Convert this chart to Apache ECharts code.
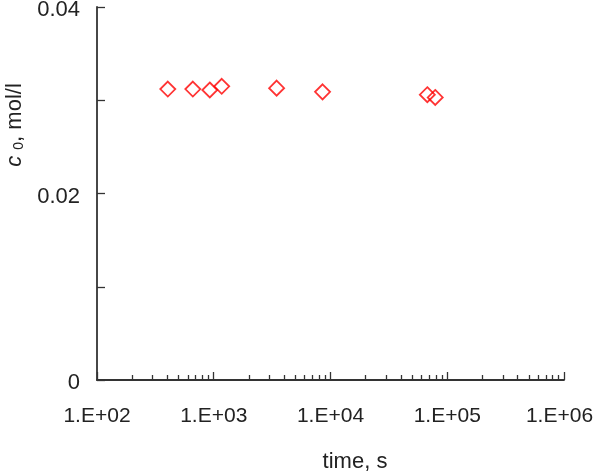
<!DOCTYPE html>
<html>
<head>
<meta charset="utf-8">
<script src="https://cdn.jsdelivr.net/npm/echarts@6/dist/echarts.min.js"></script>
<style>html,body{margin:0;padding:0;background:#fff;}#c{width:596px;height:473px;}</style>
</head>
<body>
<div id="c"></div>
<script>
// Data
const timeS = [404, 662, 925, 1170, 3455, 8550, 67500, 78900];
const c0 = [0.0312, 0.0312, 0.0311, 0.0315, 0.0313, 0.0309, 0.0306, 0.0303];
const xTickLabels = ['1.E+02', '1.E+03', '1.E+04', '1.E+05', '1.E+06'];
const yTickLabels = { '0': '0', '0.02': '0.02', '0.04': '0.04' };
const minorTicks = [];
[100, 1000, 10000, 100000].forEach(d => { for (let k = 2; k <= 9; k++) minorTicks.push(k * d); });

const font = 'Liberation Sans, Arial, sans-serif';
const txt = '#222';
const chart = echarts.init(document.getElementById('c'));
chart.setOption({
  animation: false,
  backgroundColor: '#fff',
  grid: { left: 97, right: 32, top: 7, bottom: 93, containLabel: false, outerBoundsMode: 'none' },
  xAxis: [{
    type: 'log', logBase: 10, min: 100, max: 1000000,
    name: 'time, s', nameLocation: 'middle', nameGap: 71,
    nameTextStyle: { fontFamily: font, fontSize: 22, color: txt, padding: [0, 0, 0, 49] },
    axisLine: { lineStyle: { color: '#333', width: 1.8 } },
    axisTick: { inside: true, length: 8, lineStyle: { color: '#333', width: 1.3 } },
    axisLabel: { margin: 26, fontFamily: font, fontSize: 21, color: txt,
      formatter: v => {
        const i = Math.round(Math.log10(v)) - 2;
        const s = xTickLabels[i] || '';
        return i === xTickLabels.length - 1 ? '{last|' + s + '}' : s;
      },
      rich: { last: { fontFamily: font, fontSize: 21, color: txt, padding: [0, 9, 0, 0] } } },
    splitLine: { show: false }
  }, {
    type: 'value', min: 2, max: 6, position: 'bottom', gridIndex: 0,
    axisLine: { show: false },
    axisTick: { inside: true, length: 5, customValues: minorTicks.map(Math.log10), lineStyle: { color: '#333', width: 1.3 } },
    axisLabel: { show: false },
    splitLine: { show: false }
  }],
  yAxis: {
    type: 'value', min: 0, max: 0.04, interval: 0.01,
    name: '{i|c} {sub|0}, mol/l', nameLocation: 'middle', nameGap: 69, nameRotate: 90,
    nameTextStyle: { fontFamily: font, fontSize: 22, color: txt, padding: [0, 0, 0, 137],
      rich: { i: { fontStyle: 'italic', fontFamily: font, fontSize: 22, color: txt },
              sub: { fontFamily: font, fontSize: 14, color: txt, padding: [7, 0, 0, 0] } } },
    axisLine: { show: true, lineStyle: { color: '#333', width: 1.8 } },
    axisTick: { show: true, inside: true, length: 8, lineStyle: { color: '#333', width: 1.3 } },
    axisLabel: { margin: 17, fontFamily: font, fontSize: 22, color: txt,
      formatter: v => { const k = String(+v.toFixed(4)); return yTickLabels[k] !== undefined ? '{d|' + yTickLabels[k] + '}' : ''; },
      rich: { d: { fontFamily: font, fontSize: 22, color: txt, padding: [6, 0, 0, 0] } } },
    splitLine: { show: false }
  },
  series: [{
    type: 'scatter', xAxisIndex: 0,
    data: timeS.map((t, i) => [t, c0[i]]),
    symbol: 'diamond', symbolSize: 15,
    itemStyle: { color: 'rgba(0,0,0,0)', borderColor: '#ff0000', borderWidth: 1.8 }
  }]
});
</script>
</body>
</html>
